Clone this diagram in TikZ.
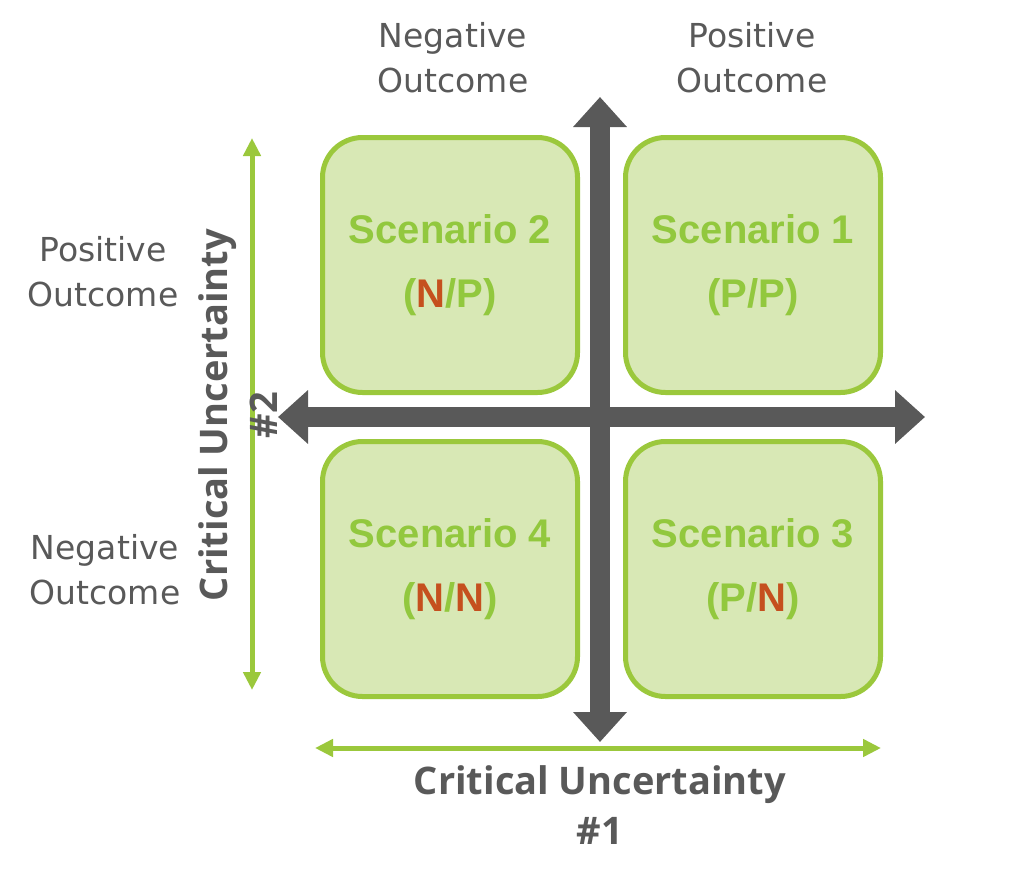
\documentclass[tikz,border=0pt]{standalone}
\usepackage{fontspec}
\usetikzlibrary{arrows.meta}
\newfontfamily\labfont{DejaVu Sans}
\newfontfamily\headfont{Open Sans}
\newfontfamily\scenfont{Liberation Sans}
\definecolor{axisgray}{HTML}{595959}
\definecolor{lgreen}{HTML}{9BC83C}
\definecolor{boxfill}{HTML}{D8E8B5}
\definecolor{scengreen}{HTML}{92C83E}
\definecolor{nred}{HTML}{C5501E}
\definecolor{labgray}{HTML}{595959}
\begin{document}
\begin{tikzpicture}[x=1pt,y=-1pt,
  scenbox/.style={draw=lgreen,line width=5pt,fill=boxfill,rounded corners=40pt,
    minimum width=255pt,minimum height=255pt,inner sep=0pt,
    text=scengreen,align=center,font=\scenfont\bfseries\fontsize{40}{64}\selectfont},
  darkaxis/.style={draw=axisgray,line width=20pt,
    {Triangle[width=52pt,length=30pt]}-{Triangle[width=52pt,length=30pt]}},
  greenaxis/.style={draw=lgreen,line width=5pt,
    {Triangle[width=17pt,length=18pt]}-{Triangle[width=17pt,length=18pt]}},
  outlab/.style={text=labgray,align=center,font=\labfont\fontsize{33}{45}\selectfont,inner sep=0pt},
  headlab/.style={text=labgray,align=center,font=\headfont\bfseries\fontsize{38}{50}\selectfont,inner sep=0pt}
]
\useasboundingbox (0,0) rectangle (1024,883);
\fill[white] (0,0) rectangle (1024,883);

% scenario boxes
\node[scenbox] (s2) at (450,265) {Scenario 2\\(\textcolor{nred}{N}/P)};
\node[scenbox] (s1) at (753,265) {Scenario 1\\(P/P)};
\node[scenbox] (s4) at (450,569) {Scenario 4\\(\textcolor{nred}{N}/\textcolor{nred}{N})};
\node[scenbox] (s3) at (753,569) {Scenario 3\\(P/\textcolor{nred}{N})};

% dark axes
\coordinate (vtop) at (600,97);
\coordinate (vbot) at (600,742);
\coordinate (hleft) at (278,417);
\coordinate (hright) at (925,417);
\draw[darkaxis] (vbot) -- (vtop);
\draw[darkaxis] (hleft) -- (hright);

% green axes
\coordinate (gtop) at (252,138);
\coordinate (gbot) at (252,690);
\coordinate (gleft) at (315,748);
\coordinate (gright) at (881,748);
\draw[greenaxis] (gbot) -- (gtop);
\draw[greenaxis] (gleft) -- (gright);

% outcome labels
\node[outlab] (tneg) at (453,58) {Negative\\Outcome};
\node[outlab] (tpos) at (752,58) {Positive\\Outcome};
\node[outlab] (lpos) at (103,272) {Positive\\Outcome};
\node[outlab] (lneg) at (105,570) {Negative\\Outcome};

% critical uncertainty labels
\node[headlab] (cu1) at (600,805) {Critical Uncertainty\\\#1};
\node[headlab,rotate=90] (cu2) at (238,415) {Critical Uncertainty\\\#2};
\end{tikzpicture}
\end{document}
